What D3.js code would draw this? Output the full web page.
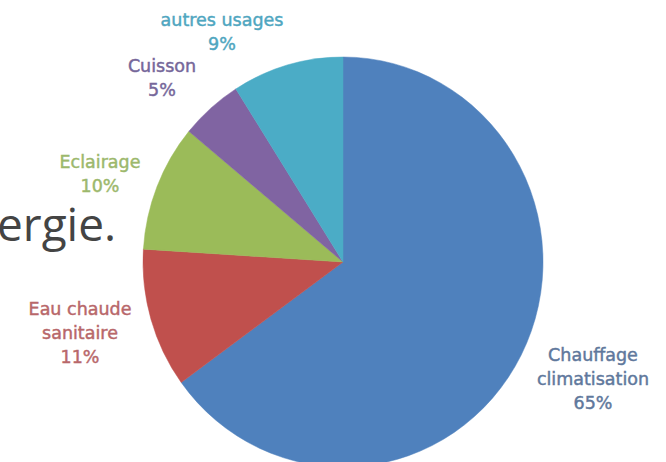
<!DOCTYPE html>
<html>
<head>
<meta charset="utf-8">
<script src="https://cdn.jsdelivr.net/npm/d3@7"></script>
<style>
  body { margin: 0; background: #fff; }
  svg { display: block; }
  .lbl { font-family: "DejaVu Sans", sans-serif; font-size: 17.5px; text-anchor: middle; stroke-width: 0.45px; }
</style>
</head>
<body>
<div id="chart"></div>
<script>
// slices, clockwise from 12 o'clock
var categories = ["Chauffage climatisation", "Eau chaude sanitaire", "Eclairage", "Cuisson", "autres usages"];
var values = [65, 11, 10, 5, 9];
var labelLines = [["Chauffage", "climatisation"], ["Eau chaude", "sanitaire"], ["Eclairage"], ["Cuisson"], ["autres usages"]];
var sliceColors = ["#4f81bd", "#c0504d", "#9bbb59", "#8064a2", "#4bacc6"];
var textColors = ["#60789c", "#b8676a", "#9cb86c", "#76679a", "#4fa6c0"];

var width = 666, height = 462;
var cx = 343, cy = 262;
var radius = 200, ky = 205 / 200;   // pie is a bit taller than wide

// where each label block is centred (top line baseline)
var labelAt = {
  "Chauffage climatisation": [593, 361],
  "Eau chaude sanitaire": [80, 315],
  "Eclairage": [100, 168],
  "Cuisson": [162, 72],
  "autres usages": [222, 26]
};
var lineGap = 24;

var svg = d3.select("#chart").append("svg")
  .attr("width", width)
  .attr("height", height);

// leftover of the slide title behind the chart
svg.append("text")
  .attr("x", -3)
  .attr("y", 241)
  .style("font-family", "'Open Sans', sans-serif")
  .style("font-size", "46px")
  .style("fill", "#444")
  .text("ergie.");

var rows = categories.map(function(c, i) {
  return { name: c, value: values[i], lines: labelLines[i], color: sliceColors[i], tcolor: textColors[i] };
});

var pie = d3.pie().sort(null).value(function(d) { return d.value; });
var arc = d3.arc().innerRadius(0).outerRadius(radius);

var g = svg.append("g")
  .attr("transform", "translate(" + cx + "," + cy + ") scale(1," + ky + ")");

g.selectAll("path")
  .data(pie(rows))
  .enter()
  .append("path")
  .attr("d", arc)
  .attr("fill", function(d) { return d.data.color; })
  .attr("stroke", function(d) { return d.data.color; })
  .attr("stroke-width", 0.5);

var labels = svg.selectAll("text.lbl")
  .data(rows)
  .enter()
  .append("text")
  .attr("class", "lbl")
  .style("fill", function(d) { return d.tcolor; })
  .style("stroke", function(d) { return d.tcolor; });

labels.each(function(d) {
  var t = d3.select(this);
  var p = labelAt[d.name];
  var lines = d.lines.concat([d.value + "%"]);
  lines.forEach(function(s, k) {
    t.append("tspan")
      .attr("x", p[0])
      .attr("y", p[1] + k * lineGap)
      .text(s);
  });
});
</script>
</body>
</html>
